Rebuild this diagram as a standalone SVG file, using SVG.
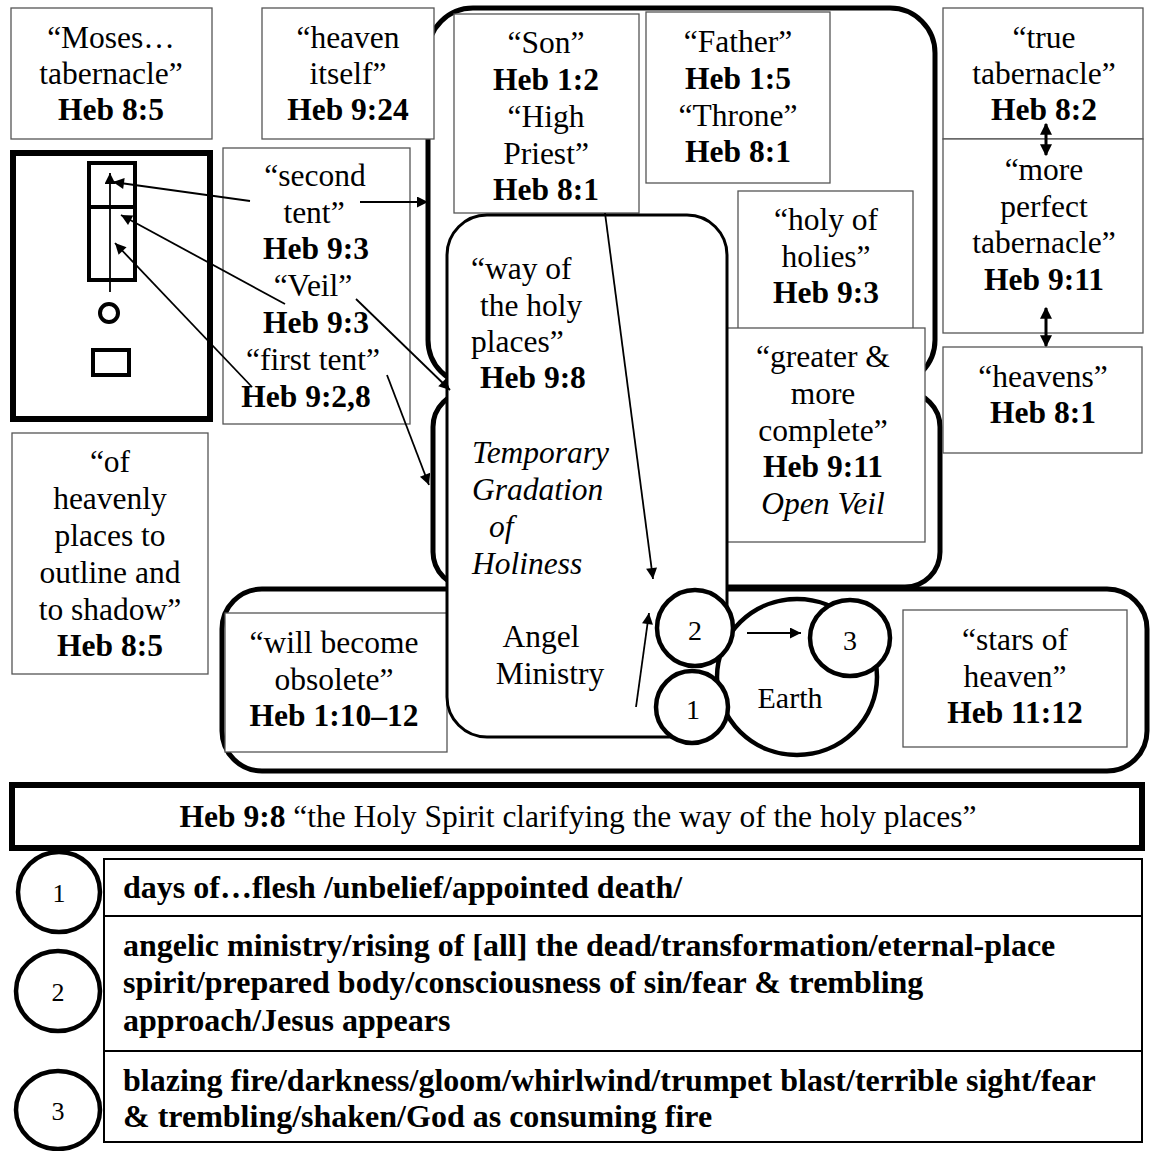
<svg xmlns="http://www.w3.org/2000/svg" width="1152" height="1151" viewBox="0 0 1152 1151">
  <style>
    text { font-family: "Liberation Serif", "Times New Roman", serif; font-size: 31.5px; fill: #000; }
    .c { text-anchor: middle; }
    .b { font-weight: bold; }
    .i { font-style: italic; }
    .tb { font-size: 32px; font-weight: bold; }
    .num { font-size: 28px; text-anchor: middle; }
    .box { fill: #fff; stroke: #555; stroke-width: 1.3; }
    .zone { fill: #fff; stroke: #000; stroke-width: 5; }
    .ring { fill: #fff; stroke: #000; stroke-width: 4.5; }
    .plan { fill: none; stroke: #000; stroke-width: 4; }
    .link { fill: none; stroke: #000; stroke-width: 1.8; marker-end: url(#ah); }
    .dbl { fill: none; stroke: #000; stroke-width: 3; marker-start: url(#ah2); marker-end: url(#ah2); }
  </style>
  <defs>
    <marker id="ah" viewBox="0 0 10 10" refX="10" refY="5" markerWidth="15" markerHeight="11" markerUnits="userSpaceOnUse" orient="auto">
      <path d="M0,0 L10,5 L0,10 z" fill="#000"/>
    </marker>
    <marker id="ah2" viewBox="0 0 10 10" refX="9" refY="5" markerWidth="12" markerHeight="13" markerUnits="userSpaceOnUse" orient="auto-start-reverse">
      <path d="M0,0 L10,5 L0,10 z" fill="#000"/>
    </marker>
  </defs>

  <!-- large rounded zones -->
  <g id="zone-lower">
    <rect class="zone" x="222" y="589" width="925" height="182" rx="40"/>
  </g>
  <g id="zone-middle">
    <rect class="zone" x="433" y="392" width="507" height="195" rx="35"/>
  </g>
  <g id="zone-upper">
    <rect class="zone" x="428" y="8" width="507" height="377" rx="45"/>
  </g>

  <!-- tabernacle plan -->
  <g id="plan">
    <rect x="13" y="153" width="197" height="266" fill="#fff" stroke="#000" stroke-width="6"/>
    <rect class="plan" x="89" y="163" width="46" height="117"/>
    <line class="plan" x1="89" y1="207" x2="135" y2="207"/>
    <circle class="plan" cx="109" cy="313" r="9"/>
    <rect class="plan" x="93" y="350" width="36" height="25"/>
  </g>

  <g id="moses">
    <rect class="box" x="11" y="8" width="201" height="131"/>
    <text class="c" x="111" y="48">“Moses…</text>
    <text class="c" x="111" y="84">tabernacle”</text>
    <text class="c b" x="111" y="120">Heb 8:5</text>
  </g>

  <g id="heaven-itself">
    <rect class="box" x="262" y="8" width="172" height="131"/>
    <text class="c" x="348" y="48">“heaven</text>
    <text class="c" x="348" y="84">itself”</text>
    <text class="c b" x="348" y="120">Heb 9:24</text>
  </g>

  <g id="tents">
    <rect class="box" x="223" y="148" width="187" height="276"/>
    <text class="c" x="315" y="186">“second</text>
    <text class="c" x="314" y="223">tent”</text>
    <text class="c b" x="316" y="259">Heb 9:3</text>
    <text class="c" x="313" y="296">“Veil”</text>
    <text class="c b" x="316" y="333">Heb 9:3</text>
    <text class="c" x="313" y="370">“first tent”</text>
    <text class="c b" x="306" y="407">Heb 9:2,8</text>
  </g>

  <g id="shadow">
    <rect class="box" x="12" y="433" width="196" height="241"/>
    <text class="c" x="110" y="472">“of</text>
    <text class="c" x="110" y="509">heavenly</text>
    <text class="c" x="110" y="546">places to</text>
    <text class="c" x="110" y="583">outline and</text>
    <text class="c" x="110" y="620">to shadow”</text>
    <text class="c b" x="110" y="656">Heb 8:5</text>
  </g>

  <g id="son">
    <rect class="box" x="454" y="14" width="185" height="199"/>
    <text class="c" x="546" y="53">“Son”</text>
    <text class="c b" x="546" y="90">Heb 1:2</text>
    <text class="c" x="546" y="127">“High</text>
    <text class="c" x="546" y="164">Priest”</text>
    <text class="c b" x="546" y="200">Heb 8:1</text>
  </g>

  <g id="father">
    <rect class="box" x="646" y="12" width="184" height="171"/>
    <text class="c" x="738" y="52">“Father”</text>
    <text class="c b" x="738" y="89">Heb 1:5</text>
    <text class="c" x="738" y="126">“Throne”</text>
    <text class="c b" x="738" y="162">Heb 8:1</text>
  </g>

  <g id="holy-of-holies">
    <rect class="box" x="738" y="191" width="175" height="150"/>
    <text class="c" x="826" y="230">“holy of</text>
    <text class="c" x="826" y="267">holies”</text>
    <text class="c b" x="826" y="303">Heb 9:3</text>
  </g>

  <g id="greater">
    <rect class="box" x="721" y="328" width="204" height="214"/>
    <text class="c" x="823" y="367">“greater &amp;</text>
    <text class="c" x="823" y="404">more</text>
    <text class="c" x="823" y="441">complete”</text>
    <text class="c b" x="823" y="477">Heb 9:11</text>
    <text class="c i" x="823" y="514">Open Veil</text>
  </g>

  <g id="true-tabernacle">
    <rect class="box" x="943" y="8" width="200" height="131"/>
    <text class="c" x="1044" y="48">“true</text>
    <text class="c" x="1044" y="84">tabernacle”</text>
    <text class="c b" x="1044" y="120">Heb 8:2</text>
  </g>

  <g id="more-perfect">
    <rect class="box" x="943" y="139" width="200" height="194"/>
    <text class="c" x="1044" y="180">“more</text>
    <text class="c" x="1044" y="217">perfect</text>
    <text class="c" x="1044" y="253">tabernacle”</text>
    <text class="c b" x="1044" y="290">Heb 9:11</text>
  </g>

  <g id="heavens">
    <rect class="box" x="943" y="347" width="199" height="106"/>
    <text class="c" x="1043" y="387">“heavens”</text>
    <text class="c b" x="1043" y="423">Heb 8:1</text>
  </g>

  <g id="obsolete">
    <rect class="box" x="225" y="613" width="222" height="139"/>
    <text class="c" x="334" y="653">“will become</text>
    <text class="c" x="334" y="690">obsolete”</text>
    <text class="c b" x="334" y="726">Heb 1:10–12</text>
  </g>

  <g id="stars">
    <rect class="box" x="903" y="610" width="224" height="137"/>
    <text class="c" x="1015" y="650">“stars of</text>
    <text class="c" x="1015" y="687">heaven”</text>
    <text class="c b" x="1015" y="723">Heb 11:12</text>
  </g>

  <!-- way of the holy places -->
  <g id="way">
    <rect x="447" y="215" width="280" height="522" rx="40" fill="#fff" stroke="#000" stroke-width="3"/>
    <text x="471" y="279">“way of</text>
    <text x="480" y="316">the holy</text>
    <text x="471" y="352">places”</text>
    <text class="b" x="480" y="388">Heb 9:8</text>
    <text class="i" x="472" y="463">Temporary</text>
    <text class="i" x="472" y="500">Gradation</text>
    <text class="i" x="489" y="537">of</text>
    <text class="i" x="472" y="574">Holiness</text>
    <text class="c" x="541" y="647">Angel</text>
    <text class="c" x="550" y="684">Ministry</text>
  </g>

  <g id="earth">
    <ellipse cx="797" cy="677" rx="80" ry="78" fill="#fff" stroke="#000" stroke-width="4.5"/>
    <text class="c" x="790" y="708" style="font-size:30px">Earth</text>
  </g>
  <g id="stage-1">
    <circle class="ring" cx="692" cy="707" r="36"/>
    <text class="num" x="693" y="719">1</text>
  </g>
  <g id="stage-2">
    <circle class="ring" cx="695" cy="628" r="38"/>
    <text class="num" x="695" y="640">2</text>
  </g>
  <g id="stage-3">
    <ellipse class="ring" cx="850" cy="638" rx="40" ry="38"/>
    <text class="num" x="850" y="650">3</text>
  </g>

  <!-- connectors -->
  <g id="connectors">
    <line class="link" x1="110" y1="292" x2="110" y2="173"/>
    <line class="link" x1="250" y1="201" x2="113" y2="182"/>
    <line class="link" x1="360" y1="202" x2="428" y2="202"/>
    <line class="link" x1="285" y1="304" x2="121" y2="215"/>
    <line class="link" x1="356" y1="299" x2="450" y2="390"/>
    <line class="link" x1="252" y1="387" x2="115" y2="243"/>
    <line class="link" x1="387" y1="375" x2="429" y2="485"/>
    <line class="link" x1="605" y1="213" x2="653" y2="579"/>
    <line class="link" x1="636" y1="707" x2="649" y2="613"/>
    <line class="link" x1="747" y1="633" x2="801" y2="633"/>
    <line class="dbl" x1="1046" y1="124" x2="1046" y2="155"/>
    <line class="dbl" x1="1046" y1="308" x2="1046" y2="346"/>
  </g>

  <!-- key table -->
  <g id="banner">
    <rect x="12" y="785" width="1130" height="63" fill="#fff" stroke="#000" stroke-width="6"/>
    <text class="c" x="578" y="827"><tspan class="b">Heb 9:8</tspan> “the Holy Spirit clarifying the way of the holy places”</text>
  </g>

  <g id="key-table">
    <rect x="104" y="859" width="1038" height="283" fill="#fff" stroke="#000" stroke-width="2"/>
    <line x1="104" y1="916" x2="1142" y2="916" stroke="#000" stroke-width="2"/>
    <line x1="104" y1="1051" x2="1142" y2="1051" stroke="#000" stroke-width="2"/>
    <text class="tb" x="123" y="898">days of…flesh /unbelief/appointed death/</text>
    <text class="tb" x="123" y="956">angelic ministry/rising of [all] the dead/transformation/eternal-place</text>
    <text class="tb" x="123" y="993">spirit/prepared body/consciousness of sin/fear &amp; trembling</text>
    <text class="tb" x="123" y="1031">approach/Jesus appears</text>
    <text class="tb" x="123" y="1091">blazing fire/darkness/gloom/whirlwind/trumpet blast/terrible sight/fear</text>
    <text class="tb" x="123" y="1127">&amp; trembling/shaken/God as consuming fire</text>
  </g>

  <g id="key-1">
    <ellipse class="ring" cx="59" cy="892" rx="41" ry="40"/>
    <text class="num" x="59" y="902" style="font-size:26px">1</text>
  </g>
  <g id="key-2">
    <ellipse class="ring" cx="58" cy="991" rx="42" ry="40"/>
    <text class="num" x="58" y="1001" style="font-size:26px">2</text>
  </g>
  <g id="key-3">
    <ellipse class="ring" cx="58" cy="1110" rx="42" ry="39"/>
    <text class="num" x="58" y="1120" style="font-size:26px">3</text>
  </g>
</svg>
